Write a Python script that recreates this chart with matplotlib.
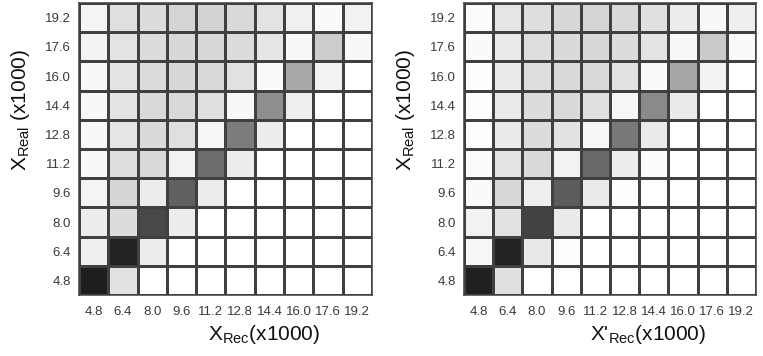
import numpy as np
import matplotlib
matplotlib.use("Agg")
import matplotlib.pyplot as plt

plt.rcParams["font.family"] = ["Liberation Sans", "DejaVu Sans"]
plt.rcParams["mathtext.default"] = "regular"

ticks = ["4.8", "6.4", "8.0", "9.6", "11.2", "12.8", "14.4", "16.0", "17.6", "19.2"]

# gray level of each cell (0 = black, 255 = white), rows = X_Real from 4.8 up to 19.2
left_gray = [
    [30, 226, 255, 255, 255, 255, 255, 255, 255, 255],
    [238, 34, 236, 255, 255, 255, 255, 255, 255, 255],
    [236, 220, 72, 236, 255, 255, 255, 255, 255, 255],
    [244, 214, 236, 96, 236, 255, 255, 255, 255, 255],
    [248, 222, 218, 242, 108, 236, 255, 255, 255, 255],
    [248, 230, 218, 223, 246, 124, 236, 255, 255, 255],
    [248, 228, 218, 217, 224, 248, 142, 238, 255, 255],
    [248, 228, 220, 216, 218, 225, 250, 168, 242, 255],
    [243, 227, 220, 216, 216, 220, 230, 248, 204, 248],
    [244, 223, 220, 213, 211, 218, 227, 240, 250, 242],
]

right_gray = [
    [32, 224, 255, 255, 255, 255, 255, 255, 255, 255],
    [246, 34, 232, 254, 255, 255, 255, 255, 255, 255],
    [242, 226, 66, 234, 255, 255, 255, 255, 255, 255],
    [250, 216, 238, 92, 234, 254, 255, 255, 255, 255],
    [252, 228, 218, 242, 104, 236, 252, 255, 255, 255],
    [254, 234, 220, 226, 246, 120, 234, 255, 255, 255],
    [254, 234, 220, 218, 224, 246, 138, 234, 255, 255],
    [254, 234, 222, 218, 218, 226, 250, 166, 242, 255],
    [250, 234, 222, 218, 216, 220, 228, 248, 202, 250],
    [252, 230, 222, 216, 213, 218, 224, 236, 248, 238],
]

xlabels = [r"X$_{Rec}$(x1000)", r"X'$_{Rec}$(x1000)"]
ylabel = r"X$_{Real}$ (x1000)"

fig = plt.figure(figsize=(7.63, 3.56), dpi=100)
positions = [[0.1035, 0.1713, 0.384, 0.820], [0.6081, 0.1713, 0.3827, 0.820]]

for pos, data, xl in zip(positions, [left_gray, right_gray], xlabels):
    ax = fig.add_axes(pos)
    ax.pcolormesh(np.array(data), cmap="gray", vmin=0, vmax=255,
                  edgecolors="#404040", linewidth=0.8)
    ax.set_xlim(0, 10)
    ax.set_ylim(0, 10)
    ax.set_xticks(np.arange(10) + 0.5)
    ax.set_yticks(np.arange(10) + 0.5)
    ax.set_xticklabels(ticks)
    ax.set_yticklabels(ticks)
    ax.tick_params(length=0, labelsize=9.5, labelcolor="#3a3a3a")
    ax.tick_params(axis="x", pad=8)
    ax.tick_params(axis="y", pad=6)
    for s in ax.spines.values():
        s.set_color("#404040")
        s.set_linewidth(1.1)
    ax.text(0.63, -0.135, xl, transform=ax.transAxes, ha="center", va="center",
            fontsize=15, color="#111111")
    ax.text(-0.20, 0.634, ylabel, transform=ax.transAxes, ha="center", va="center",
            rotation=90, fontsize=15, color="#111111")

fig.savefig("out.png", dpi=100)
